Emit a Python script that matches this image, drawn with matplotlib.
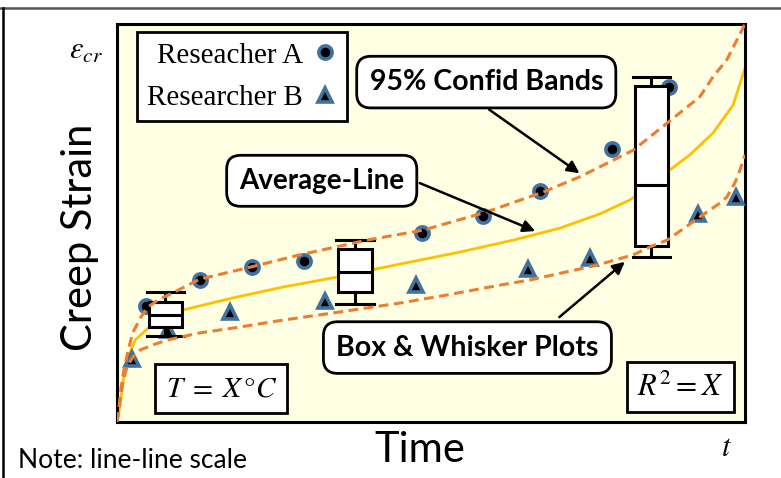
import numpy as np
import matplotlib
matplotlib.use("Agg")
import matplotlib.pyplot as plt
from matplotlib.lines import Line2D

plt.rcParams['mathtext.fontset'] = 'stix'

# measured creep data (time and strain on a 0-100 scale)
time_a = [4.6, 13.2, 21.5, 29.8, 48.6, 58.3, 67.4, 78.8, 87.9]
strain_a = [29.1, 35.7, 38.9, 40.5, 47.5, 51.8, 58.0, 68.6, 84.2]
time_b = [2.4, 8.1, 18.0, 33.1, 47.6, 65.4, 75.3, 92.5, 98.6]
strain_b = [15.8, 23.1, 27.6, 30.4, 34.4, 38.4, 41.2, 52.3, 56.5]

# average creep curve
avg_t = [0, 0.5, 1.0, 1.6, 2.9, 5.3, 10.4, 18.5, 26.4, 35.0, 45.1, 54.6,
         63.1, 70.5, 76.9, 81.7, 87.6, 91.2, 94.9, 98.1, 100]
avg_e = [0, 4.3, 10.6, 15.6, 20.6, 24.1, 28.1, 31.2, 33.9, 36.4, 39.7, 42.7,
         45.7, 48.7, 52.3, 55.8, 62.8, 67.1, 72.6, 79.6, 88.9]

# 95% confidence bands
upper_t = [0, 0.3, 0.6, 1.1, 1.8, 2.5, 3.7, 4.9, 6.8, 9.2, 13.2, 21.2, 29.1,
           39.8, 48.7, 58.3, 67.4, 73.7, 82.2, 87.6, 92.8, 94.9, 97.1, 100]
upper_e = [0, 3.0, 8.0, 13.1, 18.1, 22.4, 26.1, 28.9, 30.9, 32.7, 35.9, 38.9,
           42.0, 45.7, 48.2, 52.5, 57.5, 61.6, 68.3, 75.1, 81.7, 86.7, 91.0, 100]
lower_t = [0, 0.5, 1.0, 1.6, 2.5, 3.7, 6.1, 8.0, 13.2, 18.5, 26.4, 34.4, 45.1,
           52.5, 61.0, 65.8, 76.4, 82.2, 84.9, 87.6, 92.8, 96.0, 97.1, 98.4, 99.2, 100]
lower_e = [0, 5.5, 10.6, 13.8, 16.3, 18.1, 19.6, 20.6, 22.4, 23.6, 25.6, 27.4,
           29.9, 31.9, 34.4, 35.7, 39.4, 42.0, 44.0, 45.7, 51.5, 55.0, 56.5, 60.1, 63.3, 67.1]

# box & whisker summaries
box_t = [7.7, 37.9, 85.1]
box_lo = [21.6, 29.6, 41.5]
box_q1 = [23.9, 32.7, 44.2]
box_med = [26.9, 37.7, 59.5]
box_q3 = [30.2, 43.5, 84.4]
box_hi = [32.7, 45.7, 86.7]

blue = '#41719C'
orange = '#ED7D31'
gold = '#FFC000'

fig = plt.figure(figsize=(7.81, 4.78), dpi=100)
ax = fig.add_axes([117 / 781, 1 - 422 / 478, 628 / 781, 398 / 478])
ax.set_facecolor('#FFFFE3')
ax.set_xlim(0, 100)
ax.set_ylim(0, 100)
ax.set_xticks([])
ax.set_yticks([])
for s in ax.spines.values():
    s.set_linewidth(2.2)

ax.plot(avg_t, avg_e, color=gold, lw=2, zorder=2)
ax.plot(time_a, strain_a, 'o', ms=9.5, mfc='black', mec=blue, mew=2.6,
        zorder=3, label='Reseacher A')
ax.plot(time_b, strain_b, '^', ms=10, mfc='black', mec=blue, mew=2.6,
        zorder=3, label='Researcher B')

stats = [dict(whislo=a, q1=b, med=c, q3=d, whishi=e, fliers=[])
         for a, b, c, d, e in zip(box_lo, box_q1, box_med, box_q3, box_hi)]
bp = ax.bxp(stats, positions=box_t, widths=5.3, capwidths=6.0,
            patch_artist=True, showfliers=False, manage_ticks=False,
            boxprops=dict(facecolor='white', edgecolor='black', linewidth=2.2),
            medianprops=dict(color='black', linewidth=2.2),
            whiskerprops=dict(color='black', linewidth=2.2),
            capprops=dict(color='black', linewidth=2.2))
for k in bp:
    for art in bp[k]:
        art.set_zorder(4)

ax.plot(upper_t, upper_e, color=orange, lw=2.2, dashes=(3.2, 1.8), zorder=5)
ax.plot(lower_t, lower_e, color=orange, lw=2.2, dashes=(3.2, 1.8), zorder=5)

leg = ax.legend(loc='upper left', bbox_to_anchor=(0.032, 0.98),
                borderaxespad=0, markerfirst=False, fancybox=False,
                framealpha=1, edgecolor='black', handlelength=0.8,
                handletextpad=0.35, labelspacing=0.55, borderpad=0.35,
                prop=dict(family='Liberation Serif', size=21))
leg.get_frame().set_linewidth(2.0)
leg.set_zorder(6)

# callouts
callout = dict(boxstyle='round,pad=0.45,rounding_size=0.5', fc='white',
               ec='black', lw=2.0)
arrow = dict(arrowstyle='-|>', color='black', lw=1.8, mutation_scale=18)

ax.text(58.8, 85.4, '95% Confid Bands', ha='center', va='center',
        family='Lato', weight='bold', size=20.5, bbox=callout, zorder=7)
ax.annotate('', xy=(74.0, 62.1), xytext=(58.9, 78.9), arrowprops=arrow, zorder=7)

ax.text(32.6, 60.6, 'Average-Line', ha='center', va='center',
        family='Lato', weight='bold', size=20, bbox=callout, zorder=7)
ax.annotate('', xy=(67.0, 47.7), xytext=(47.8, 60.3), arrowprops=arrow, zorder=7)

ax.text(55.8, 18.7, 'Box & Whisker Plots', ha='center', va='center',
        family='Lato', weight='bold', size=20.5, bbox=callout, zorder=7)
ax.annotate('', xy=(81.2, 40.7), xytext=(70.1, 25.9), arrowprops=arrow, zorder=7)

square = dict(boxstyle='square,pad=0.35', fc='white', ec='black', lw=2.0)
ax.text(16.6, 8.4, r'$T\;=\;X\,°C$', ha='center', va='center', size=21,
        bbox=square, zorder=7)
ax.text(89.7, 8.8, r'$R^2 = X$', ha='center', va='center', size=22,
        bbox=square, zorder=7)

# axis titles and notes
fig.text(80 / 781, 1 - 237 / 478, 'Creep Strain', rotation=90, ha='center',
         va='center', family='Lato', size=30)
fig.text(420 / 781, 1 - 450 / 478, 'Time', ha='center', va='center',
         family='Lato', size=30)
fig.text(18 / 781, 1 - 460 / 478, 'Note: line-line scale', ha='left',
         va='center', family='Lato', size=19)
fig.text(86 / 781, 1 - 50 / 478, r'$\varepsilon_{cr}$', ha='center',
         va='center', size=22)
fig.text(727 / 781, 1 - 447 / 478, r'$t$', ha='center', va='center', size=22)

# page frame
fig.add_artist(Line2D([0, 1], [1 - 8 / 478, 1 - 8 / 478], color='#555555', lw=1.8))
fig.add_artist(Line2D([3 / 781, 3 / 781], [0, 1 - 8 / 478], color='black', lw=1.8))

fig.savefig('out.png', dpi=100)
